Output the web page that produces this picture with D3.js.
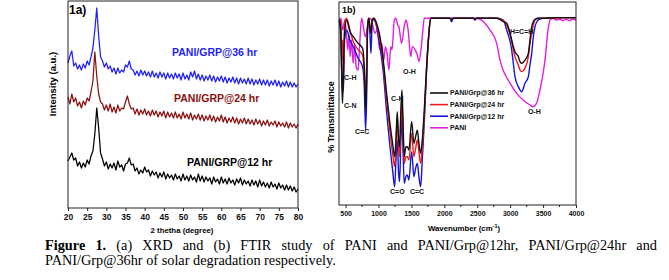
<!DOCTYPE html>
<html>
<head>
<meta charset="utf-8">
<script src="https://cdn.jsdelivr.net/npm/d3@7"></script>
<style>
  body { margin: 0; background: #fff; }
  svg { display: block; }
</style>
</head>
<body>
<svg id="fig" width="669" height="280"></svg>
<script>

//
// DATA: XRD (panel a)
//

const twoTheta = d3.range(20, 80.25, 0.5);

const xrd12 = [47,51,55,48,50,42,46,40,45,41,48,44,52,57,74,100,80,55,49,42,46,39,44,40,45,38,47,41,43,37,44,45,50,43,44,37,40,34,38,35,
  41,36,38,32,37,33,36,30,35,31,36,29,34,30,33,28,34,29,32,27,34,28,32,27,33,28,31,26,34,27,32,26,31,27,30,24,31,26,29,24,
  31,25,29,24,30,25,28,23,29,25,30,23,28,24,27,22,28,23,27,21,28,22,26,21,25,20,26,21,24,19,25,20,23,18,23,18,22,17,21,16,19];

const xrd24 = [111,104,114,106,110,102,106,100,107,103,110,107,116,127,156,132,114,106,104,98,103,97,104,96,101,95,103,97,100,99,
  106,112,104,99,100,94,99,93,98,94,99,93,97,92,98,93,97,91,96,92,97,90,96,91,95,90,96,90,94,89,96,90,94,89,95,88,93,89,94,88,
  93,87,92,88,93,87,92,86,91,87,93,86,91,85,90,86,91,85,90,84,89,85,90,84,89,84,88,83,89,84,88,82,87,83,88,82,86,83,87,81,
  86,82,85,81,86,80,85,81,84,80,84];

const xrd36 = [145,152,157,142,145,139,143,138,144,140,147,143,151,160,178,200,172,151,147,141,145,139,142,136,140,134,140,135,138,136,
  143,141,147,139,138,133,137,132,138,133,137,132,136,131,137,131,135,130,136,131,135,129,135,130,134,129,135,130,134,128,
  135,129,133,128,136,131,137,129,134,128,133,127,132,128,133,127,132,126,131,127,132,126,131,125,130,126,131,125,130,124,
  130,125,129,124,130,124,129,123,128,124,129,123,128,123,128,122,127,123,128,122,127,121,126,122,127,121,126,121,125,121,124];

const xrdTicks = [20, 25, 30, 35, 40, 45, 50, 55, 60, 65, 70, 75, 80];
const xrdNames = ["PANI/GRP@12 hr", "PANI/GRP@24 hr", "PANI/GRP@36 hr"];

//
// DATA: FTIR (panel b)
//

const waveGrp = [404,424,444,454,470,485,515,566,616,692,758,784,804,819,834,850,870,885,905,930,971,1022,1072,1123,1174,1214,
  1245,1265,1285,1305,1320,1340,1356,1371,1391,1416,1437,1462,1503,1538,1564,1590,1614,1640,1665,1695,1731,1761,1792,2085,
  2110,2136,2440,2465,2490,2800,2896,2947,3023,3048,3073,3124,3149,3175,3225,3276,3301,3327,3352,3377,3428,3500,3700,4000];

const ftir36 = [91.1,87.8,60.0,50.1,71.4,84.6,91.1,85.4,82.9,79.6,77.2,68.1,46.8,60.0,87.8,92.0,87.8,84.6,91.1,92.0,89.5,82.9,71.4,55.0,
  40.2,30.4,23.8,32.0,46.0,32.0,28.7,46.8,56.7,43.5,23.8,28.7,28.7,27.1,41.1,30.4,33.7,36.9,30.4,25.5,32.0,46.8,68.1,82.9,92.0,92.0,
  91.5,92.0,92.0,91.6,92.0,92.0,90.3,89.5,81.3,78.0,75.5,73.1,70.6,69.8,71.4,74.7,81.3,87.8,90.3,91.5,92.0,92.0,92.3,92.3];

const ftir24 = [91.5,91.1,71.4,81.3,63.2,89.5,92.0,86.2,80.5,76.4,73.9,64.9,55.0,68.1,87.8,92.0,87.8,85.4,91.1,92.0,88.7,81.3,69.8,51.7,
  36.1,25.5,18.9,28.7,43.5,28.7,23.8,41.9,51.7,38.6,20.5,23.8,23.8,22.2,35.3,23.8,27.9,32.0,26.3,20.5,28.7,43.5,68.1,82.9,92.0,92.0,
  91.5,92.0,92.0,91.6,92.0,92.0,90.8,88.7,80.5,76.4,73.1,69.0,66.5,65.7,67.3,73.1,79.6,84.6,88.7,91.1,92.0,92.0,92.1,92.3];

const ftir12 = [90.8,84.6,63.2,55.0,60.0,81.3,86.2,81.3,78.0,72.2,68.1,58.3,36.9,51.7,86.2,91.5,84.6,74.7,90.3,91.5,87.8,78.0,65.7,46.0,
  28.7,17.2,9.0,22.2,32.0,15.6,11.5,32.0,43.5,28.7,10.7,14.0,14.8,12.3,26.3,14.0,18.1,20.5,14.0,9.0,22.2,40.2,66.5,82.1,92.0,92.0,
  90.3,92.0,92.0,91.1,92.0,92.0,91.1,86.2,76.4,69.8,63.2,58.3,56.7,55.8,60.0,63.2,69.0,74.7,82.9,87.8,91.1,92.0,92.3,92.3];

const wavePani = [404,430,455,490,515,535,550,570,590,615,640,660,690,710,730,745,770,800,825,850,880,905,945,980,1020,1050,1080,
  1105,1130,1160,1185,1205,1240,1265,1290,1310,1350,1390,1420,1450,1490,1515,1555,1590,1614,1645,1670,1695,2490,2640,2694,2795,
  2846,2998,3100,3195,3300,3347,3400,3453,3500,3529,3575,3605,3650,3700,3750,3800,3850,3900,3950,4000];

const ftirPani = [91.1,92.0,86.2,91.1,82.9,76.4,84.6,73.1,81.3,69.8,79.6,68.1,66.5,76.4,87.8,92.0,87.8,82.9,86.2,91.1,92.0,89.5,84.6,
  86.2,76.4,79.6,71.4,78.0,74.7,66.5,78.0,76.4,91.1,92.0,88.7,87.8,79.6,87.8,91.1,86.2,73.1,78.0,76.4,73.9,70.6,76.4,84.6,92.0,
  92.0,88.7,86.2,79.6,71.4,60.0,55.0,51.7,49.3,48.4,50.1,56.7,64.9,71.4,86.2,91.1,92.0,91.1,91.6,90.8,91.5,90.8,91.6,91.1];

const ftirTicks = [500, 1000, 1500, 2000, 2500, 3000, 3500, 4000];
const ftirMinor = [750, 1250, 1750, 2250, 2750, 3250, 3750];
const ftirNames = ["PANI/Grp@36 hr", "PANI/Grp@24 hr", "PANI/Grp@12 hr", "PANI"];

const bandNames = ["C-H", "C-N", "C=C", "O-H", "C-H", "C=O", "C=C", "H=C=H", "O-H"];
const bandWave = [476, 476, 643, 1372, 1190, 1175, 1478, 2997, 3271];
const bandT = [62.6, 48.8, 36.0, 65.5, 52.2, 6.4, 6.4, 85.2, 45.8];

//
// LAYOUT
//

const sans = "'Liberation Sans', Arial, sans-serif";
const svg = d3.select("#fig");

const pa = { left: 68, right: 298, top: 1, bottom: 208 };
const pb = { left: 339, right: 576, top: 2, bottom: 205 };

//
// PANEL A: XRD
//

const xA = d3.scaleLinear().domain([20, 80]).range([pa.left, pa.right]);
const yA = d3.scaleLinear().domain([0, 207]).range([pa.bottom, pa.top]);

const xrdSeries = [
    { name: xrdNames[0], values: xrd12, color: "#000000", lx: 187, ly: 165.5 },
    { name: xrdNames[1], values: xrd24, color: "#8b1111", lx: 174, ly: 102 },
    { name: xrdNames[2], values: xrd36, color: "#1f1fff", lx: 172, ly: 56 }
];

const lineA = d3.line()
    .x((d, i) => xA(twoTheta[i]))
    .y(d => yA(d));

svg.append("g")
    .attr("id", "xrd")
    .selectAll("path")
    .data(xrdSeries)
    .enter().append("path")
        .attr("d", d => lineA(d.values))
        .attr("fill", "none")
        .attr("stroke", d => d.color)
        .attr("stroke-width", 1.25)
        .attr("stroke-linejoin", "round");

svg.append("g")
    .selectAll("text")
    .data(xrdSeries)
    .enter().append("text")
        .attr("x", d => d.lx)
        .attr("y", d => d.ly)
        .attr("fill", d => d.color)
        .style("font-size", "10.5px")
        .style("font-weight", "bold")
        .style("font-family", sans)
        .text(d => d.name);

svg.append("rect")
    .attr("x", pa.left)
    .attr("y", pa.top)
    .attr("width", pa.right - pa.left)
    .attr("height", pa.bottom - pa.top)
    .attr("fill", "none")
    .attr("stroke", "#222")
    .attr("stroke-width", 1);

const axA = svg.append("g")
    .attr("transform", `translate(0, ${pa.bottom})`)
    .call(d3.axisBottom(xA).tickValues(xrdTicks).tickSize(3).tickPadding(3));
axA.select(".domain").remove();
axA.selectAll("line").attr("stroke", "#222");
axA.selectAll("text")
    .style("font-size", "8.5px")
    .style("font-weight", "bold")
    .style("font-family", sans)
    .attr("fill", "#111");

svg.append("text")
    .attr("x", 182)
    .attr("y", 233)
    .style("text-anchor", "middle")
    .style("font-size", "7.8px")
    .style("font-weight", "bold")
    .style("font-family", sans)
    .text("2 thetha (degree)");

svg.append("text")
    .attr("transform", "translate(56, 84) rotate(-90)")
    .style("text-anchor", "middle")
    .style("font-size", "9.5px")
    .style("font-weight", "bold")
    .style("font-family", sans)
    .text("Intensity (a.u.)");

svg.append("text")
    .attr("x", 69)
    .attr("y", 13.5)
    .style("font-size", "12px")
    .style("font-weight", "bold")
    .style("font-family", sans)
    .text("1a)");

//
// PANEL B: FTIR
//

const xB = d3.scaleLinear().domain([400, 4000]).range([pb.left, pb.right]);
const yB = d3.scaleLinear().domain([0, 100]).range([pb.bottom, pb.top]);

const ftirSeries = [
    { name: ftirNames[3], wave: wavePani, values: ftirPani, color: "#e11ee1" },
    { name: ftirNames[2], wave: waveGrp, values: ftir12, color: "#1515d0" },
    { name: ftirNames[1], wave: waveGrp, values: ftir24, color: "#ec1c1c" },
    { name: ftirNames[0], wave: waveGrp, values: ftir36, color: "#111111" }
];

const lineB = (s) => d3.line()
    .x((d, i) => xB(s.wave[i]))
    .y(d => yB(d))
    .curve(d3.curveMonotoneX)(s.values);

svg.append("g")
    .attr("id", "ftir")
    .selectAll("path")
    .data(ftirSeries)
    .enter().append("path")
        .attr("d", d => lineB(d))
        .attr("fill", "none")
        .attr("stroke", d => d.color)
        .attr("stroke-width", 1.4)
        .attr("stroke-linejoin", "round");

svg.append("rect")
    .attr("x", pb.left)
    .attr("y", pb.top)
    .attr("width", pb.right - pb.left)
    .attr("height", pb.bottom - pb.top)
    .attr("fill", "none")
    .attr("stroke", "#222")
    .attr("stroke-width", 1);

const axB = svg.append("g")
    .attr("transform", `translate(0, ${pb.bottom})`)
    .call(d3.axisBottom(xB).tickValues(ftirTicks).tickFormat(d3.format("d")).tickSize(3).tickPadding(3));
axB.select(".domain").remove();
axB.selectAll("line").attr("stroke", "#222");
axB.selectAll("text")
    .style("font-size", "7px")
    .style("font-weight", "bold")
    .style("font-family", sans)
    .attr("fill", "#111");

svg.append("g")
    .selectAll("line")
    .data(ftirMinor)
    .enter().append("line")
        .attr("x1", d => xB(d))
        .attr("x2", d => xB(d))
        .attr("y1", pb.bottom)
        .attr("y2", pb.bottom + 2)
        .attr("stroke", "#222");

const wn = svg.append("text")
    .attr("x", 464)
    .attr("y", 231)
    .style("text-anchor", "middle")
    .style("font-size", "7.8px")
    .style("font-weight", "bold")
    .style("font-family", sans);
wn.append("tspan").text("Wavenumber (cm");
wn.append("tspan").attr("dy", -3).style("font-size", "5.5px").text("-1");
wn.append("tspan").attr("dy", 3).text(")");

svg.append("text")
    .attr("transform", "translate(334, 117) rotate(-90)")
    .style("text-anchor", "middle")
    .style("font-size", "9px")
    .style("font-weight", "bold")
    .style("font-family", sans)
    .text("% Transmittance");

svg.append("text")
    .attr("x", 342)
    .attr("y", 12.5)
    .style("font-size", "9px")
    .style("font-weight", "bold")
    .style("font-family", sans)
    .text("1b)");

// band labels
svg.append("g")
    .selectAll("text")
    .data(bandNames)
    .enter().append("text")
        .attr("x", (d, i) => xB(bandWave[i]))
        .attr("y", (d, i) => yB(bandT[i]))
        .attr("dy", "0.35em")
        .style("font-size", "7px")
        .style("font-weight", "bold")
        .style("font-family", sans)
        .attr("fill", "#111")
        .text(d => d);

// legend
const legB = svg.append("g")
    .attr("transform", "translate(430, 93)");

const legItems = legB.selectAll("g")
    .data(ftirSeries.slice().reverse())
    .enter().append("g")
        .attr("transform", (d, i) => `translate(0, ${i * 11.6})`);

legItems.append("line")
    .attr("x1", 0)
    .attr("x2", 18)
    .attr("stroke", d => d.color)
    .attr("stroke-width", 1.6);

legItems.append("text")
    .attr("x", 20)
    .attr("dy", "0.35em")
    .style("font-size", "7px")
    .style("font-weight", "bold")
    .style("font-family", sans)
    .attr("fill", "#111")
    .text(d => d.name);

//
// CAPTION
//

const serif = "'Liberation Serif', 'Times New Roman', serif";

const cap1 = svg.append("text")
    .attr("x", 45)
    .attr("y", 250)
    .style("font-size", "14.3px")
    .style("font-family", serif);
cap1.append("tspan").style("font-weight", "bold").text("Figure 1.");
cap1.append("tspan").text(" (a) XRD and (b) FTIR study of PANI and PANI/Grp@12hr, PANI/Grp@24hr and");

const natural = cap1.node().getComputedTextLength();
const gaps = cap1.text().split(" ").length - 1;
cap1.style("word-spacing", ((657 - 45 - natural) / gaps) + "px");

svg.append("text")
    .attr("x", 45)
    .attr("y", 264.5)
    .style("font-size", "14.3px")
    .style("font-family", serif)
    .text("PANI/Grp@36hr of solar degradation respectively.");

</script>
</body>
</html>
